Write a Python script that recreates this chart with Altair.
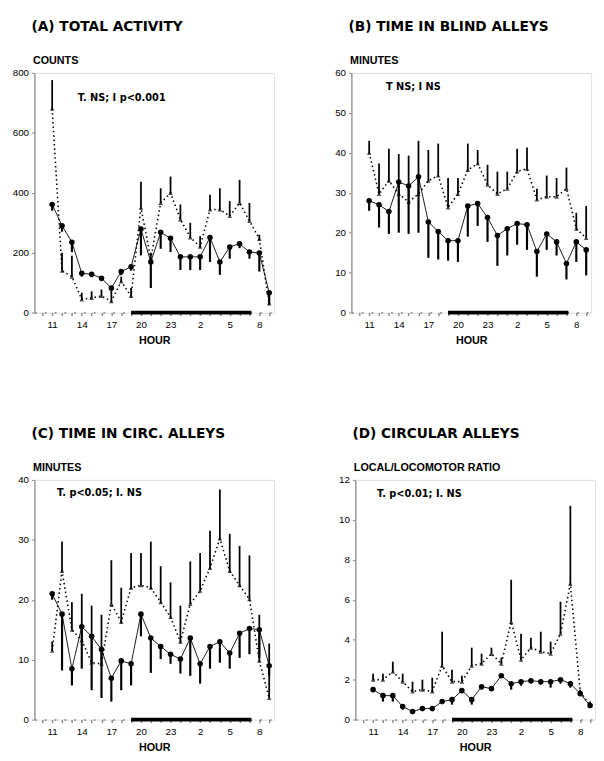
import altair as alt
import pandas as pd

FONT = "DejaVu Sans"

# hour index 0 = 11 h ... 22 = 9 h next morning
IDX = list(range(23))
TICK_IDX = list(range(-1, 23))
HOUR_LABELS = ["", "11", "", "", "14", "", "", "17", "", "", "20", "", "", "23", "", "",
               "2", "", "", "5", "", "", "8", ""]  # for TICK_IDX (-1 .. 22)
DARK_START = [8]
DARK_END = [20.2]

# (A) total activity
a_low = [361, 290, 235, 131, 128, 115, 82, 137, 153, 279, 169, 268, 248, 186, 186, 186, 251, 169, 219, 230, 202, 199, 66]
a_low_err = [340, 270, 202, 120, 118, 105, 70, 125, 140, 191, 82, 213, 202, 142, 142, 142, 169, 126, 180, 215, 180, 137, 27]
a_up = [680, 140, 120, 44, 49, 55, 38, 104, 55, 350, 180, 366, 399, 311, 251, 220, 344, 344, 322, 366, 306, 246, 30]
a_up_err = [776, 200, 190, 66, 71, 77, 71, 120, 82, 437, 200, 415, 454, 361, 300, 255, 393, 415, 372, 443, 366, 260, 60]

# (B) time in blind alleys
b_low = [28, 27, 25.3, 32.7, 31.7, 34, 22.7, 20.3, 18, 18, 26.7, 27.3, 23.8, 19.3, 21, 22.3, 22, 15.3, 19.7, 17.7, 12.3, 17.7, 15.7]
b_low_err = [25.5, 21.3, 19.7, 20, 19.7, 20, 13.7, 13.3, 13, 12.7, 19, 21.7, 17.7, 11.7, 14.3, 17, 15.7, 9, 15.7, 14.3, 8.3, 12.7, 9.3]
b_up = [40, 29.7, 33, 29.7, 27.7, 29.7, 33, 34.3, 26.3, 29.7, 35.7, 37.3, 32, 29.7, 31, 35.3, 36, 28.3, 29, 29, 31, 21, 18.7]
b_up_err = [43, 37.3, 41, 39.7, 39.3, 43, 40.7, 42.3, 33.7, 33.7, 42.3, 40.7, 37, 35.3, 35.3, 41, 41.3, 31, 34.3, 33.7, 36.3, 25, 26.7]

# (C) time in circular alleys
c_low = [21, 17.6, 8.5, 15.5, 13.9, 11.7, 6.9, 9.8, 9.3, 17.6, 13.6, 12.2, 10.9, 10.1, 13.6, 9.3, 12.2, 13, 11.1, 14.4, 15.2, 15, 9]
c_low_err = [20, 8.2, 5.7, 8.5, 4.9, 3.6, 3, 4.9, 5.7, 13.9, 7.8, 10.1, 9.3, 7.7, 7.3, 6, 8.5, 9.5, 8.5, 10.3, 10.9, 10.3, 7.3]
c_up = [11.5, 24.8, 15, 13.2, 9.5, 9.3, 19.3, 16.3, 22, 22.4, 22, 19.6, 17.1, 13, 19.3, 21.5, 25.3, 30.2, 24.8, 22.4, 20.1, 9.8, 3.6]
c_up_err = [13, 29.7, 19.6, 21, 19, 17.5, 26.6, 22, 27.8, 27.8, 29.7, 25.6, 22.9, 19, 26.4, 27.8, 31.5, 38.4, 31, 29, 27.4, 17.5, 12.7]

# (D) circular alleys, local/locomotor ratio
d_low = [1.5, 1.2, 1.2, 0.65, 0.4, 0.55, 0.55, 0.9, 1.0, 1.45, 1.0, 1.65, 1.55, 2.2, 1.8, 1.9, 1.95, 1.9, 1.9, 2.0, 1.8, 1.3, 0.7]
d_low_err = [1.4, 0.9, 0.9, 0.5, 0.3, 0.45, 0.45, 0.8, 0.75, 1.4, 0.75, 1.5, 1.5, 2.1, 1.5, 1.7, 1.8, 1.75, 1.6, 1.8, 1.6, 1.2, 0.6]
d_up = [2.0, 2.0, 2.4, 1.9, 1.4, 1.5, 1.4, 2.7, 1.9, 1.9, 2.7, 2.8, 3.3, 2.8, 4.9, 3.0, 3.6, 3.4, 3.3, 4.3, 6.8, 1.4, 0.7]
d_up_err = [2.3, 2.3, 2.9, 2.3, 1.9, 2.0, 2.1, 4.4, 2.5, 2.2, 3.6, 3.3, 3.6, 3.1, 7.0, 4.3, 4.1, 4.4, 3.9, 5.9, 10.7, 1.5, 0.9]

PANELS = [
    dict(title="(A) TOTAL ACTIVITY", ytitle="COUNTS", note="T. NS; I p<0.001", note_x=2.6, note_y=715,
         ydom=[0, 800], yticks=[0, 200, 400, 600, 800], low=a_low, low_err=a_low_err, up=a_up, up_err=a_up_err),
    dict(title="(B) TIME IN BLIND ALLEYS", ytitle="MINUTES", note="T NS; I NS", note_x=1.7, note_y=56.5,
         ydom=[0, 60], yticks=[0, 10, 20, 30, 40, 50, 60], low=b_low, low_err=b_low_err, up=b_up, up_err=b_up_err),
    dict(title="(C) TIME IN CIRC. ALLEYS", ytitle="MINUTES", note="T. p<0.05; I. NS", note_x=0.5, note_y=37.8,
         ydom=[0, 40], yticks=[0, 10, 20, 30, 40], low=c_low, low_err=c_low_err, up=c_up, up_err=c_up_err),
    dict(title="(D) CIRCULAR ALLEYS", ytitle="LOCAL/LOCOMOTOR RATIO", note="T. p<0.01; I. NS", note_x=0.4, note_y=11.3,
         ydom=[0, 12], yticks=[0, 2, 4, 6, 8, 10, 12], low=d_low, low_err=d_low_err, up=d_up, up_err=d_up_err),
]

label_arr = "[" + ",".join("'%s'" % s for s in HOUR_LABELS) + "]"
XS = alt.Scale(domain=[-1.8, 22.5], nice=False, zero=False)
XAXIS = alt.Axis(values=TICK_IDX, labelExpr=label_arr + "[datum.value + 1]", title="HOUR",
                 grid=False, tickSize=3, tickWidth=1.5, domainDash=[2, 8], domainWidth=1.5,
                 labelPadding=4, titlePadding=6, labelFlush=False)


def panel(p):
    df = pd.DataFrame({"idx": IDX, "low": p["low"], "low_err": p["low_err"],
                       "up": p["up"], "up_err": p["up_err"]})
    ys = alt.Scale(domain=p["ydom"], nice=False)
    yaxis = alt.Axis(values=p["yticks"], title=p["ytitle"], grid=False, tickSize=3,
                     titleAngle=0, titleAlign="left", titleBaseline="bottom",
                     titleX=-2, titleY=-8, labelPadding=3, domainWidth=1.2)

    def X(f):
        return alt.X(f, type="quantitative", scale=XS, axis=XAXIS)

    def Y(f):
        return alt.Y(f, type="quantitative", scale=ys, axis=yaxis)

    base = alt.Chart(df)
    up_line = base.mark_line(color="black", strokeDash=[1.5, 3], strokeWidth=1.6).encode(x=X("idx"), y=Y("up"))
    up_bar = base.mark_rule(color="black", strokeWidth=1.8).encode(x=X("idx"), y=Y("up"), y2=alt.Y2("up_err"))
    up_pt = base.mark_point(shape="triangle-up", filled=True, color="black", size=22).encode(x=X("idx"), y=Y("up"))
    low_line = base.mark_line(color="black", strokeWidth=0.9).encode(x=X("idx"), y=Y("low"))
    low_bar = base.mark_rule(color="black", strokeWidth=2.2).encode(x=X("idx"), y=Y("low"), y2=alt.Y2("low_err"))
    low_pt = base.mark_point(shape="circle", filled=True, color="black", size=32, opacity=1).encode(x=X("idx"), y=Y("low"))

    dark = alt.Chart(pd.DataFrame({"s": DARK_START, "e": DARK_END, "z": [p["ydom"][0]]})).mark_rule(
        color="black", strokeWidth=4).encode(x=X("s"), x2="e", y=Y("z"))
    note = alt.Chart(pd.DataFrame({"x": [p["note_x"]], "y": [p["note_y"]], "t": [p["note"]]})).mark_text(
        align="left", baseline="middle", font=FONT, fontWeight="bold", fontSize=10, color="black").encode(
        x=X("x"), y=Y("y"), text="t:N")

    return alt.layer(up_line, low_line, up_bar, low_bar, up_pt, low_pt, dark, note).properties(
        width=245, height=245,
        title=alt.TitleParams(p["title"], anchor="start", frame="group", dx=-3, offset=21,
                              font=FONT, fontSize=14, fontWeight="bold", color="black"))


row1 = alt.hconcat(panel(PANELS[0]), panel(PANELS[1]), spacing=60)
row2 = alt.hconcat(panel(PANELS[2]), panel(PANELS[3]), spacing=64)
chart = alt.vconcat(row1, row2, spacing=81).properties(
    padding={"top": 3, "left": 3, "right": 0, "bottom": 0}
).configure_view(stroke=None).configure_axis(
    labelFont=FONT, labelFontWeight="bold", labelFontSize=10, labelColor="black",
    titleFont=FONT, titleFontWeight="bold", titleFontSize=10, titleColor="black",
    domainColor="black", tickColor="black"
).configure(background="white")

chart.save("out.html", embed_options={"renderer": "svg", "actions": False})
